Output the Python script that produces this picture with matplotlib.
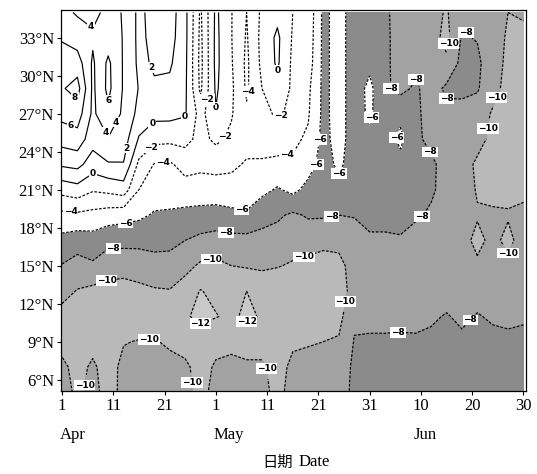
import numpy as np
import matplotlib
matplotlib.use("Agg")
import matplotlib.pyplot as plt

# days since 1 Apr (grid columns) and latitudes (grid rows)
days = np.arange(0, 91, 3)
lats = np.arange(5, 36, 2)

# field values, one row per latitude (5N ... 35N)
row_05 = [-9.0, -10.5, -9.2, -11.0, -9.3, -9.2, -9.2, -9.4, -9.5, -10.5, -9.5, -9.3, -9.5, -9.6, -10.4, -9.5,
          -9.3, -9.2, -9.0, -7.5, -7.3, -7.3, -7.2, -7.3, -7.3, -7.2, -7.3, -7.2, -7.0, -7.2, -7.2]
row_07 = [-9.6, -10.6, -9.7, -10.8, -9.5, -9.4, -9.4, -9.6, -9.7, -10.6, -9.8, -9.7, -9.8, -9.8, -10.5, -9.7,
          -9.6, -9.4, -9.2, -7.6, -7.5, -7.5, -7.4, -7.5, -7.4, -7.3, -7.5, -7.3, -7.2, -7.4, -7.4]
row_09 = [-10.6, -10.8, -10.6, -11.0, -10.1, -9.9, -9.9, -10.2, -10.6, -11.0, -10.5, -10.3, -10.5, -10.5, -10.8, -10.2,
          -10.1, -10.0, -9.8, -7.9, -7.8, -7.8, -7.7, -7.8, -7.7, -7.6, -7.7, -7.6, -7.6, -7.7, -7.6]
row_11 = [-10.6, -11.0, -11.2, -11.3, -11.3, -11.2, -11.1, -11.2, -11.8, -12.4, -12.1, -11.6, -12.4, -11.8, -11.5, -11.3,
          -11.2, -11.0, -10.6, -8.3, -8.4, -8.4, -8.5, -8.4, -8.2, -7.9, -8.3, -7.9, -8.2, -8.3, -8.2]
row_13 = [-9.4, -10.1, -10.5, -10.6, -10.7, -10.5, -10.2, -10.1, -10.9, -12.1, -11.5, -11.2, -12.0, -11.2, -11.2, -11.3,
          -11.5, -11.5, -11.2, -9.0, -9.0, -9.1, -9.2, -9.1, -9.0, -8.6, -8.8, -8.6, -8.8, -8.8, -8.7]
row_15 = [-8.1, -8.8, -8.3, -9.2, -9.3, -9.0, -8.7, -8.7, -9.4, -10.3, -10.5, -10.0, -9.8, -9.7, -9.9, -10.2,
          -10.6, -10.9, -10.7, -9.0, -9.0, -9.0, -9.1, -9.1, -9.1, -9.3, -9.5, -9.8, -9.5, -9.7, -9.3]
row_17 = [-6.6, -7.0, -6.8, -7.4, -7.4, -7.5, -7.4, -7.5, -8.0, -8.5, -8.8, -8.6, -8.6, -8.6, -8.8, -9.2,
          -9.1, -9.4, -9.3, -8.8, -8.3, -8.3, -8.2, -8.6, -8.9, -9.2, -9.6, -10.3, -9.7, -10.3, -9.5]
row_19 = [-4.5, -4.4, -4.6, -5.0, -5.3, -5.6, -6.2, -6.3, -6.5, -6.6, -6.7, -6.5, -6.3, -7.3, -7.7, -8.3,
          -7.8, -7.8, -8.0, -7.9, -7.4, -7.4, -7.3, -7.8, -8.2, -8.7, -9.5, -9.9, -9.9, -9.9, -9.8]
row_21 = [-1.3, -0.8, -1.8, -1.5, -1.0, -4.0, -5.0, -5.0, -4.9, -5.0, -5.0, -4.8, -4.8, -5.5, -6.2, -5.5,
          -6.6, -7.2, -6.7, -7.2, -7.0, -7.0, -7.2, -7.3, -7.8, -8.5, -9.4, -10.1, -10.2, -10.3, -10.2]
row_23 = [2.3, 2.6, 1.0, 1.8, 1.9, -2.5, -4.1, -4.3, -3.2, -3.5, -3.3, -3.6, -4.2, -4.3, -4.6, -4.3,
          -5.2, -6.8, -5.6, -7.0, -6.9, -7.0, -6.8, -7.4, -7.7, -8.6, -9.5, -10.2, -10.4, -10.5, -10.4]
row_25 = [4.8, 5.2, 2.8, 3.9, 3.0, -0.2, -1.4, -1.5, -1.4, -2.6, -1.6, -2.4, -3.3, -3.0, -2.8, -3.6,
          -4.3, -6.6, -5.2, -7.0, -6.6, -7.1, -5.5, -7.7, -8.4, -9.0, -9.3, -9.6, -10.3, -10.4, -10.5]
row_27 = [6.6, 7.0, 3.6, 5.6, 3.6, 1.4, 0.6, 0.6, 0.2, -2.8, -0.1, -1.8, -3.7, -2.4, -1.8, -2.3,
          -3.8, -6.5, -5.2, -7.0, -5.6, -7.6, -6.6, -7.6, -8.8, -8.6, -8.7, -9.0, -10.2, -10.5, -10.4]
row_29 = [7.8, 8.8, 3.6, 6.5, 3.8, 1.9, 1.8, 1.5, 0.4, -4.4, 0.3, -1.6, -4.3, -2.0, -0.8, -2.3,
          -3.6, -6.5, -5.2, -7.0, -5.5, -7.7, -8.5, -7.7, -8.9, -7.6, -7.5, -7.8, -9.4, -10.6, -10.3]
row_31 = [7.0, 7.0, 3.7, 6.4, 3.8, 1.6, 2.2, 2.3, 0.5, -4.6, 0.5, -1.8, -4.4, -1.5, 0.3, -2.4,
          -3.0, -6.5, -5.2, -7.0, -6.5, -7.7, -8.6, -8.5, -9.0, -9.6, -7.4, -7.6, -9.2, -10.4, -10.3]
row_33 = [5.8, 5.0, 4.3, 5.0, 3.9, 1.5, 2.6, 2.8, 0.6, -4.5, 0.5, -1.9, -4.2, -1.4, 0.4, -2.2,
          -2.8, -6.5, -5.2, -7.0, -7.0, -7.7, -8.6, -8.7, -9.2, -10.6, -7.8, -8.1, -9.3, -10.2, -10.2]
row_35 = [4.5, 3.8, 3.5, 4.5, 3.9, 1.5, 2.8, 3.0, 0.6, -4.3, 0.4, -1.9, -4.0, -1.6, -0.6, -2.0,
          -2.6, -6.5, -5.2, -7.0, -7.0, -7.7, -8.7, -8.7, -9.3, -10.2, -8.4, -8.6, -9.5, -10.0, -9.9]

# axis labels
tick_days = [0, 10, 20, 30, 40, 50, 60, 70, 80, 90]
tick_day_labels = ["1", "11", "21", "1", "11", "21", "31", "10", "20", "30"]
month_days = [0, 30, 69]
month_labels = ["Apr", "May", "Jun"]
tick_lats = [6, 9, 12, 15, 18, 21, 24, 27, 30, 33]

# contour label anchor points (day, lat)
label_days = [5.1, 2.0, 9.4, 17.5, 1.2, 10.3, 8.4, 11.3, 17.5, 24.0, 31.2, 42.0,
              6.0, 17.5, 19.7, 28.5, 36.6, 43.0, 33.0, 44.0, 50.0, 1.6,
              12.3, 35.0, 50.7, 53.6, 60.6, 65.5,
              10.0, 32.0, 52.8, 71.0, 64.0, 69.5, 69.8, 74.7, 80.0, 65.5, 81.0,
              8.0, 29.0, 48.3, 53.2, 86.0, 17.0, 3.9, 26.5, 40.5, 76.0, 87.0, 80.5,
              26.3, 37.2]
label_lats = [33.6, 28.1, 28.0, 30.7, 25.5, 26.4, 25.5, 24.4, 26.3, 26.7, 27.1, 30.3,
              22.8, 24.3, 23.2, 28.1, 28.7, 26.7, 25.0, 23.5, 25.0, 18.9,
              18.6, 19.4, 22.8, 21.8, 26.7, 25.1,
              16.4, 17.7, 18.5, 18.5, 29.0, 29.8, 23.5, 27.9, 34.0, 9.7, 10.2,
              14.7, 15.9, 14.3, 12.3, 15.5, 9.2, 5.6, 5.8, 6.9, 32.5, 27.9, 26.0,
              9.2, 9.2]

field = np.array([row_05, row_07, row_09, row_11, row_13, row_15, row_17, row_19,
                  row_21, row_23, row_25, row_27, row_29, row_31, row_33, row_35])

fill_levels = [-20, -12, -10, -8, -6, 20]
fill_colors = ["#c9c9c9", "#b9b9b9", "#a2a2a2", "#8b8b8b", "#ffffff"]
line_levels = [-12, -10, -8, -6, -4, -2, 0, 2, 4, 6, 8]
line_styles = [(0, (2.2, 1.4)) if v < 0 else "solid" for v in line_levels]

serif = "Liberation Serif"

fig = plt.figure(figsize=(5.37, 4.74), dpi=100)
ax = fig.add_axes([0.1136, 0.175, 0.866, 0.804])

ax.contourf(days, lats, field, levels=fill_levels, colors=fill_colors)
cs = ax.contour(days, lats, field, levels=line_levels, colors="black",
                linewidths=0.85, linestyles=line_styles)

def fmt(v):
    return f"{v:.0f}".replace("-", "\u2212")

texts = ax.clabel(cs, fmt=fmt, fontsize=6.5, inline=True, inline_spacing=1,
                  manual=list(zip(label_days, label_lats)))
for t in texts:
    t.set_rotation(0)
    t.set_fontweight("bold")
    t.set_bbox(dict(facecolor="white", edgecolor="none", pad=0.6))

ax.set_xlim(-0.2, 90.5)
ax.set_ylim(5.1, 35.2)
ax.set_xticks(tick_days)
ax.set_xticklabels(tick_day_labels, fontfamily=serif, fontsize=12)
ax.set_yticks(tick_lats)
ax.set_yticklabels([f"{v}°N" for v in tick_lats], fontfamily=serif, fontsize=12)
ax.tick_params(length=3, width=0.8, pad=2)

for d, m in zip(month_days, month_labels):
    ax.text(d - 0.5, -0.115, m, transform=ax.get_xaxis_transform(), ha="left", va="center",
            fontfamily=serif, fontsize=12)

fig.text(0.545, 0.025, "日期", fontfamily="Noto Sans CJK SC", fontsize=11, ha="right", va="center")
fig.text(0.555, 0.025, "Date", fontfamily=serif, fontsize=12, ha="left", va="center")

for s in ax.spines.values():
    s.set_linewidth(0.9)

fig.savefig("out.png", dpi=100)
